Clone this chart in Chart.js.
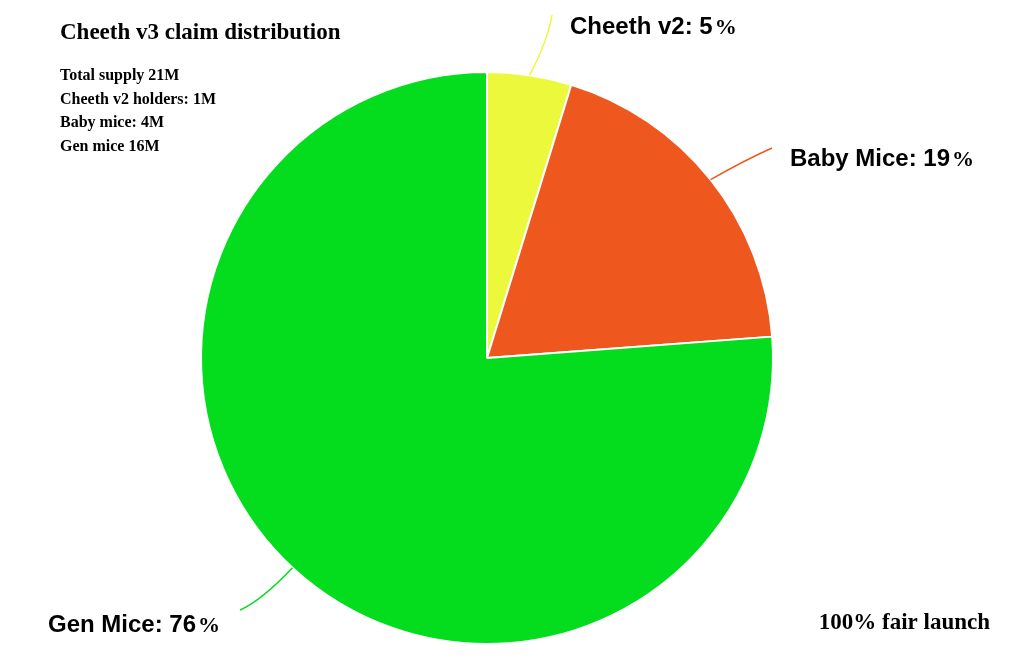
<!DOCTYPE html>
<html><head><meta charset="utf-8">
<script src="https://cdn.jsdelivr.net/npm/chart.js@4/dist/chart.umd.min.js"></script>
<style>html,body{margin:0;padding:0;background:#fff}#wrap{width:1016px;height:658px}</style>
</head><body><div id="wrap"><canvas id="c"></canvas></div>
<script>
const categories = ["Cheeth v2", "Baby Mice", "Gen Mice"];
const values = [1, 4, 16];
const percentLabels = ["5", "19", "76"];
const colors = ["#ecf83c", "#ee581e", "#04dd1e"];
const infoLines = ["Total supply 21M", "Cheeth v2 holders: 1M", "Baby mice: 4M", "Gen mice 16M"];

const labelPlugin = {
  id: 'labels',
  afterDraw(chart) {
    const ctx = chart.ctx;
    const arcs = chart.getDatasetMeta(0).data;
    // leader end offsets & label anchors relative to leader end
    const cfg = [
      {ctrl:[548,40], end:[552,15], text:[570,34], align:'left'},
      {ctrl:[745,160], end:[772,148], text:[790,166], align:'left'},
      {ctrl:[262,600], end:[240,610], text:[48,632], align:'left'}
    ];
    arcs.forEach((a, i) => {
      const mid = (a.startAngle + a.endAngle) / 2;
      const sx = a.x + Math.cos(mid) * a.outerRadius;
      const sy = a.y + Math.sin(mid) * a.outerRadius;
      const c = cfg[i];
      ctx.save();
      ctx.strokeStyle = colors[i];
      ctx.lineWidth = 1.5;
      ctx.beginPath();
      ctx.moveTo(sx, sy);
      ctx.quadraticCurveTo(c.ctrl[0], c.ctrl[1], c.end[0], c.end[1]);
      ctx.stroke();
      ctx.fillStyle = '#000';
      ctx.textBaseline = 'alphabetic';
      ctx.textAlign = 'left';
      ctx.font = 'bold 24px "Liberation Sans", Arial, sans-serif';
      const t = categories[i] + ': ' + percentLabels[i];
      ctx.fillText(t, c.text[0], c.text[1]);
      const w = ctx.measureText(t).width;
      ctx.font = 'bold 22px "Liberation Serif", serif';
      ctx.fillText('%', c.text[0] + w + 2, c.text[1]);
      ctx.restore();
    });
    ctx.save();
    ctx.fillStyle = '#000';
    ctx.font = 'bold 23px "Liberation Serif", serif';
    ctx.fillText('Cheeth v3 claim distribution', 60, 39);
    ctx.font = 'bold 16px "Liberation Serif", serif';
    infoLines.forEach((l, k) => ctx.fillText(l, 60, 80 + k * 23.5));
    ctx.font = 'bold 23px "Liberation Serif", serif';
    ctx.textAlign = 'right';
    ctx.fillText('100% fair launch', 990, 629);
    ctx.restore();
  }
};

new Chart(document.getElementById('c'), {
  type: 'pie',
  data: { labels: categories, datasets: [{ data: values, backgroundColor: colors, borderColor: '#ffffff', borderWidth: 2 }] },
  options: {
    responsive: true, maintainAspectRatio: false, animation: false,
    layout: { padding: { top: 71, bottom: 13, left: 0, right: 42 } },
    plugins: { legend: { display: false }, tooltip: { enabled: false } }
  },
  plugins: [labelPlugin]
});
</script></body></html>
